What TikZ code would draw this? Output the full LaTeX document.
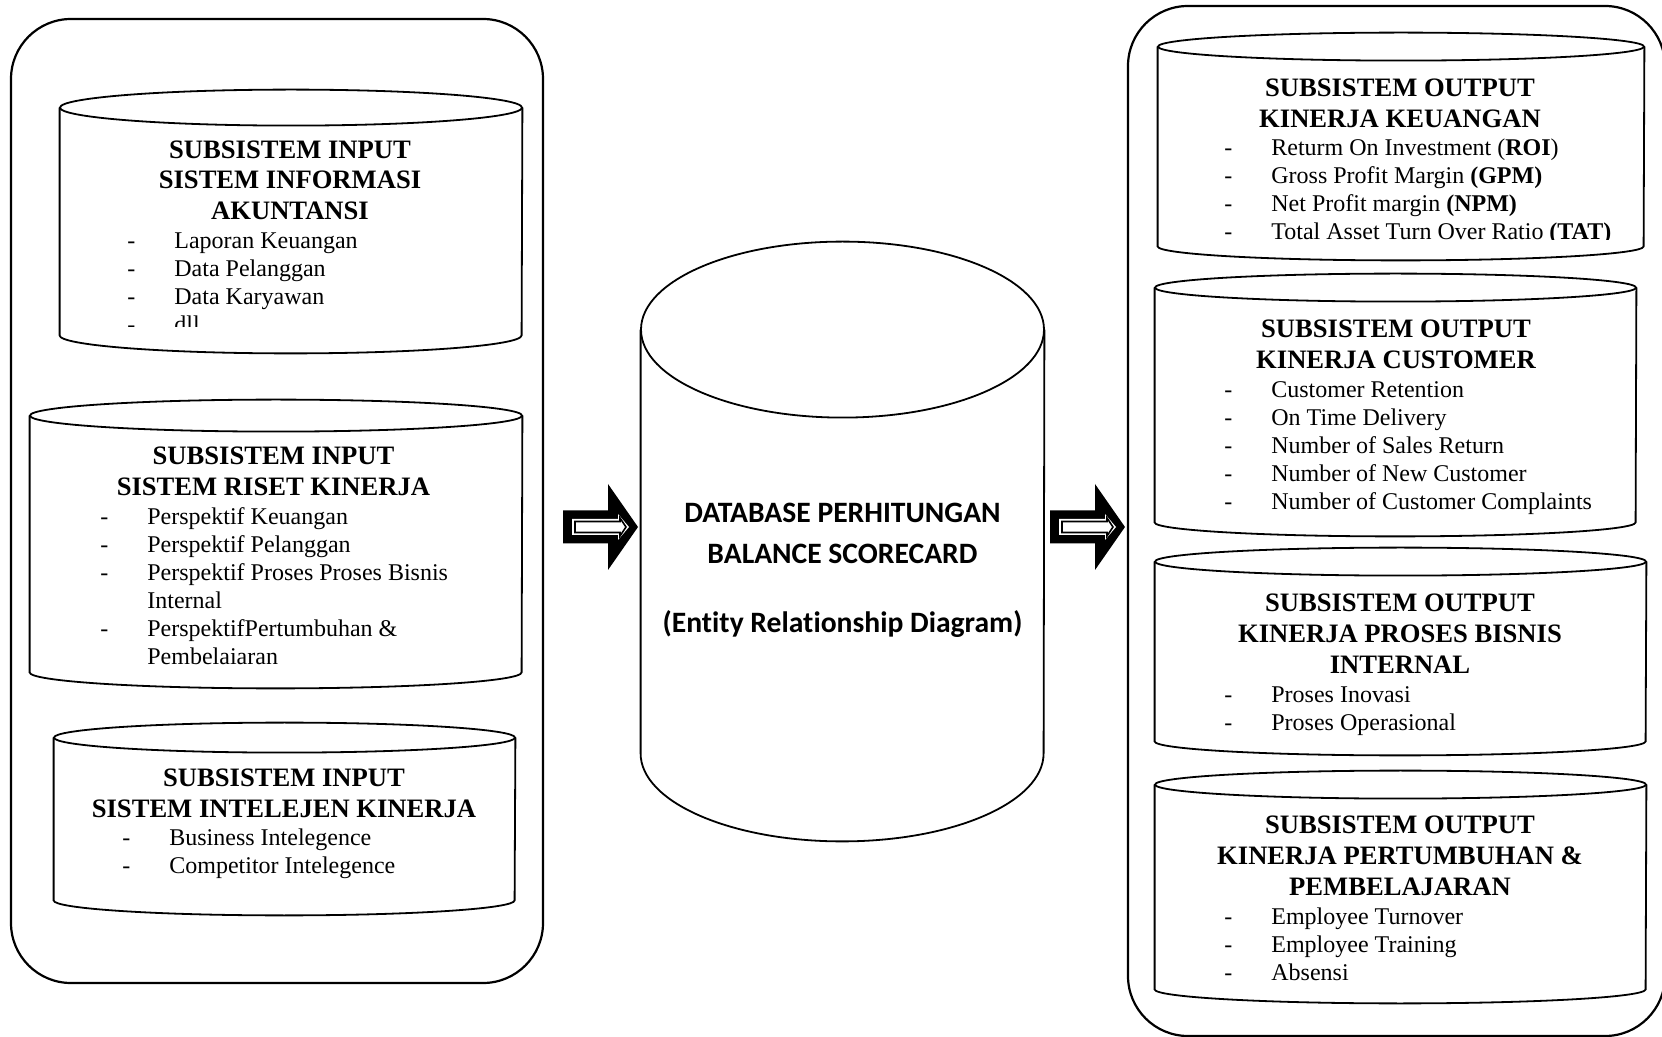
\documentclass[tikz,border=0pt]{standalone}
\usepackage{fontspec}
\setmainfont{Liberation Serif}
\newfontfamily\calibrifont[Ligatures=NoCommon]{Carlito}
\usetikzlibrary{calc}
\newcommand{\itm}{\makebox[23.5pt][l]{-}}
\newcommand{\gap}{\makebox[23.5pt]{}}
% outline of a drum around a named node: node, x radius, y radius
\newcommand{\drum}[3]{%
  \draw[line width=0.9pt] ($(#1.north)+(0,#3)$) ellipse [x radius=#2, y radius=#3];
  \draw[line width=0.9pt] ($(#1.north west)+(0,#3)$) -- ($(#1.south west)+(0,-#3)$)
    arc [start angle=180, end angle=0, x radius=#2, y radius=#3] -- ($(#1.north east)+(0,#3)$);
}
\tikzset{pics/hollowarrow/.style={code={
  \fill (0,-16.5) -- (45,-16.5) -- (45,-43) -- (75,0) -- (45,43) -- (45,16.5) -- (0,16.5) -- cycle;
  \fill[white] (9,-8) -- (55,-8) -- (55,-13) -- (66,0) -- (55,13) -- (55,8) -- (9,8) -- cycle;
  \draw[line width=0.8pt] (12,-5.5) -- (57,-5.5) -- (57,-9) -- (63,0) -- (57,9) -- (57,5.5) -- (12,5.5) -- cycle;
}}}

\begin{document}
\begin{tikzpicture}[x=0.5pt,y=-0.5pt]
\tikzstyle{frame}=[draw,line width=1.1pt,rounded corners=30pt,inner sep=0];
\tikzstyle{db}=[inner sep=0];
\tikzstyle{head}=[anchor=north,inner sep=0,align=center,font=\bfseries\fontsize{13.3}{15.4}\selectfont];
\tikzstyle{items}=[anchor=north west,inner sep=0,align=left,font=\fontsize{12}{14}\selectfont];
\useasboundingbox (0,0) rectangle (1662,1037);

% input side
\node [frame,minimum width=266pt,minimum height=482pt] (inbox) at (277,501) {};
\node [db,minimum width=231pt,minimum height=131.5pt] (sia) at (291,221.5) {};
\drum{sia}{231}{18}
\node [head] (siatitle) at (290,140) {SUBSISTEM INPUT\\SISTEM INFORMASI\\AKUNTANSI};
\begin{scope}
\clip (60,92) rectangle (522,327);
\node [items] (siaitems) at (127,232) {\itm Laporan Keuangan\\\itm Data Pelanggan\\\itm Data Karyawan\\\itm dll};
\end{scope}

\node [db,minimum width=246pt,minimum height=144pt] (srk) at (276,544) {};
\drum{srk}{246}{16}
\node [head] (srktitle) at (273.5,446.5) {SUBSISTEM INPUT\\SISTEM RISET KINERJA};
\node [items] (srkitems) at (100,507) {\itm Perspektif Keuangan\\\itm Perspektif Pelanggan\\\itm Perspektif Proses Proses Bisnis\\\gap Internal\\\itm PerspektifPertumbuhan \&\\\gap Pembelaiaran};

\node [db,minimum width=230.5pt,minimum height=96pt] (sik) at (284.5,819) {};
\drum{sik}{230.5}{15}
\node [head] (siktitle) at (284,768.5) {SUBSISTEM INPUT\\SISTEM INTELEJEN KINERJA};
\node [items] (sikitems) at (122,828.5) {\itm Business Intelegence\\\itm Competitor Intelegence};

% database
\node [db,minimum width=201.5pt,minimum height=299.5pt] (bsc) at (842.5,541.5) {};
\drum{bsc}{201.5}{88}
\node [anchor=north,inner sep=0,align=center,font=\calibrifont\bfseries\fontsize{14.8}{20.5}\selectfont] (bsctext) at (842.5,503) {DATABASE PERHITUNGAN\\BALANCE SCORECARD\\[14pt](Entity Relationship Diagram)};

\pic at (563,527) {hollowarrow};
\pic at (1050,527) {hollowarrow};

% output side
\node [frame,minimum width=268.5pt,minimum height=515pt] (outbox) at (1396.5,521) {};
\node [db,minimum width=243pt,minimum height=113.5pt] (keu) at (1401,146.5) {};
\drum{keu}{243}{14}
\node [head] (keutitle) at (1400,78.5) {SUBSISTEM OUTPUT\\KINERJA KEUANGAN};
\begin{scope}
\clip (1155,60) rectangle (1648,240);
\node [items] (keuitems) at (1224,138.5) {\itm Returm On Investment (\textbf{ROI})\\\itm Gross Profit Margin \textbf{(GPM)}\\\itm Net Profit margin \textbf{(NPM)}\\\itm Total Asset Turn Over Ratio \textbf{(TAT)}};
\end{scope}

\node [db,minimum width=240.5pt,minimum height=131pt] (cus) at (1395.5,405) {};
\drum{cus}{240.5}{14}
\node [head] (custitle) at (1396,319.5) {SUBSISTEM OUTPUT\\KINERJA CUSTOMER};
\node [items] (cusitems) at (1224,381.6) {\itm Customer Retention\\\itm On Time Delivery\\\itm Number of Sales Return\\\itm Number of New Customer\\\itm Number of Customer Complaints};

\node [db,minimum width=245.5pt,minimum height=103.5pt] (pbi) at (1400.5,651.5) {};
\drum{pbi}{245.5}{14}
\node [head] (pbititle) at (1400,593.5) {SUBSISTEM OUTPUT\\KINERJA PROSES BISNIS\\INTERNAL};
\node [items] (pbiitems) at (1224,686) {\itm Proses Inovasi\\\itm Proses Operasional};

\node [db,minimum width=245.5pt,minimum height=116pt] (pmb) at (1400.5,887) {};
\drum{pmb}{245.5}{14}
\node [head] (pmbtitle) at (1400,815.5) {SUBSISTEM OUTPUT\\KINERJA PERTUMBUHAN \&\\PEMBELAJARAN};
\node [items] (pmbitems) at (1224,907.3) {\itm Employee Turnover\\\itm Employee Training\\\itm Absensi};
\end{tikzpicture}
\end{document}
